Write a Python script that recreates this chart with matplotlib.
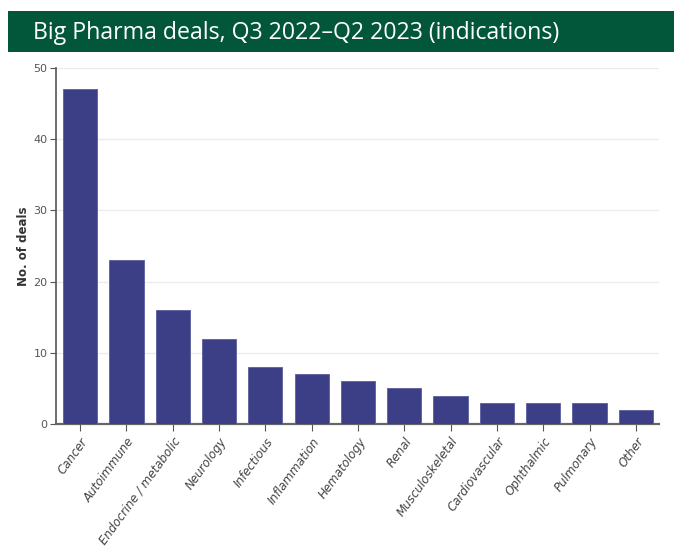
import matplotlib.pyplot as plt
from matplotlib.patches import Rectangle

categories = ['Cancer', 'Autoimmune', 'Endocrine / metabolic', 'Neurology',
              'Infectious', 'Inflammation', 'Hematology', 'Renal',
              'Musculoskeletal', 'Cardiovascular', 'Ophthalmic', 'Pulmonary',
              'Other']
deals = [47, 23, 16, 12, 8, 7, 6, 5, 4, 3, 3, 3, 2]
yticks = [0, 10, 20, 30, 40, 50]

W, H = 674, 552
fig = plt.figure(figsize=(W / 100, H / 100), dpi=100)

# green title banner
fig.patches.append(Rectangle((8 / W, 1 - 52 / H), (W - 8) / W, 41 / H,
                             transform=fig.transFigure, facecolor='#02573b',
                             edgecolor='none'))
fig.text(33 / W, 1 - 33 / H, 'Big Pharma deals, Q3 2022\u2013Q2 2023 (indications)',
         color='white', fontsize=16.7, family='Open Sans', va='center', ha='left')

ax = fig.add_axes([56 / W, 1 - 424 / H, (659 - 56) / W, (424 - 68) / H])
x = range(len(categories))
ax.bar(x, deals, width=0.74, color='#3c3f86', edgecolor='#5a5ea0', linewidth=0.6,
       zorder=3)

ax.set_xlim(-0.52, len(categories) - 0.5)
ax.set_ylim(0, 50)
ax.set_yticks(yticks)
ax.grid(axis='y', color='#ececec', linewidth=1, zorder=0)
ax.set_axisbelow(True)

for s in ['top', 'right']:
    ax.spines[s].set_visible(False)
ax.spines['left'].set_color('#555555')
ax.spines['bottom'].set_color('#666666')
ax.spines['bottom'].set_linewidth(1.6)
ax.spines['left'].set_linewidth(1.2)

ax.tick_params(axis='y', length=4, color='#555555', labelsize=8,
               labelcolor='#555555', pad=2)
ax.tick_params(axis='x', length=5, color='#555555', pad=3)
ax.set_xticks(list(x))
ax.set_xticklabels(categories, rotation=54, ha='right', rotation_mode='anchor',
                   fontsize=8.6, style='italic', color='#444444')

ax.set_ylabel('No. of deals', fontsize=8.5, fontweight='bold', color='#333333')
ax.yaxis.set_label_coords(-0.043, 0.5)

fig.savefig('out.png', dpi=100)
